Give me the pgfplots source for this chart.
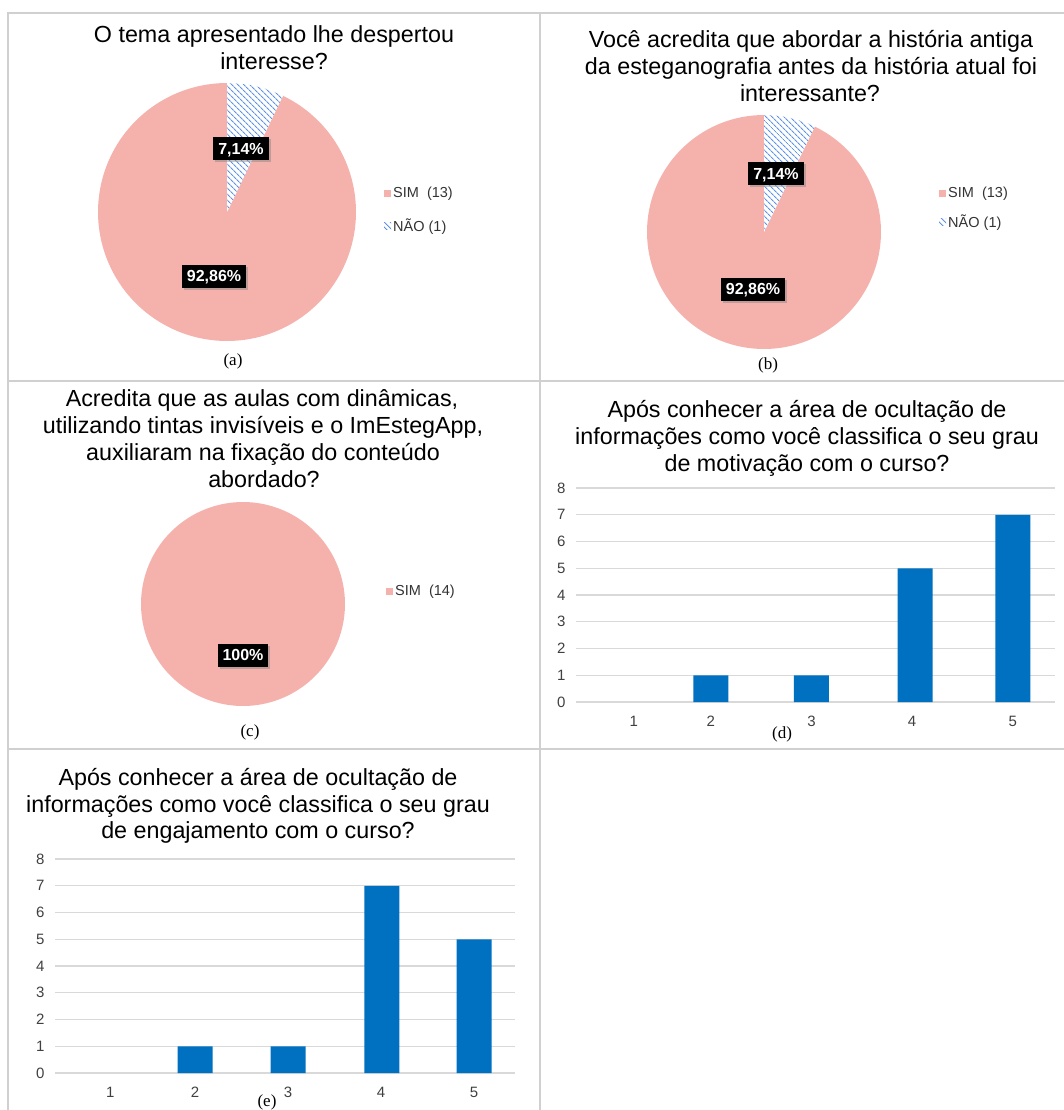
\documentclass[border=0pt]{standalone}
\usepackage{fontspec}
\setmainfont{Liberation Sans}
\newfontfamily\capfont{Liberation Serif}
\usepackage{pgfplots}
\pgfplotsset{compat=1.18}
\usetikzlibrary{patterns,patterns.meta,shadows}
\definecolor{piepink}{HTML}{F5B2AD}
\definecolor{hatchblue}{HTML}{5E93E6}
\definecolor{barblue}{HTML}{0070C0}
\definecolor{gridgray}{HTML}{D9D9D9}
\definecolor{ticktext}{HTML}{404040}
\definecolor{legtext}{HTML}{333333}
\definecolor{framegray}{HTML}{D0D0D0}

\pgfplotsset{
  pieaxis/.style={hide axis, scale only axis, xmin=-1,xmax=1,ymin=-1,ymax=1,
    anchor=center, clip=false,
    legend style={draw=none, fill=none, anchor=north west, inner sep=0pt,
      font=\fontsize{14.5}{16}\selectfont\color{legtext}, cells={anchor=west}},
    legend image code/.code={\path[##1] (0pt,-3.5pt) rectangle (7pt,3.5pt);}},
  baraxis/.style={scale only axis, anchor=south west, clip=false,
    axis line style={draw=none}, ymin=0, ymax=8, ytick={0,...,8},
    ymajorgrids, grid style={gridgray, line width=1.3pt},
    major tick length=0pt, ybar, bar width=35pt,
    /pgf/number format/assume math mode=true,
    tick label style={font=\fontsize{15}{17}\selectfont, text=ticktext},
    xticklabel style={anchor=north, text height=11pt, text depth=0pt, yshift=-10pt},
    yticklabel style={xshift=-7pt}},
  hatch/.style={fill=white, draw=none,
    postaction={pattern={Lines[angle=-45, distance=4pt, line width=1.1pt]}, pattern color=hatchblue}},
}
\tikzset{
  plab/.style={fill=black, text=white, font=\fontsize{16}{18}\selectfont\bfseries,
    inner xsep=5pt, inner ysep=5.5pt, text height=11.5pt, text depth=0.5pt,
    drop shadow={shadow xshift=2pt, shadow yshift=-2pt, opacity=0.45}},
  ttl/.style={anchor=base, inner sep=0pt, font=\fontsize{23.3}{27}\selectfont},
  figcap/.style={anchor=base, inner sep=0pt, font=\capfont\fontsize{17}{20}\selectfont},
}

% data (counts)
\def\aSim{13}\def\aNao{1}
\def\bSim{13}\def\bNao{1}
\def\cSim{14}

\begin{document}
\begin{tikzpicture}
\useasboundingbox (0,0) rectangle (1064pt,-1110pt);
% frame
\draw[framegray, line width=1.5pt] (8pt,-1110pt) -- (8pt,-13pt) -- (1064pt,-13pt);
\draw[framegray, line width=1.5pt] (540pt,-13pt) -- (540pt,-1110pt);
\draw[framegray, line width=1.5pt] (8pt,-381pt) -- (1064pt,-381pt);
\draw[framegray, line width=1.5pt] (8pt,-749pt) -- (1064pt,-749pt);

% ---------- (a) ----------
\node[ttl] at (274pt,-43pt) {O tema apresentado lhe despertou};
\node[ttl] at (274pt,-70pt) {interesse?};
\pgfmathsetmacro\aEnd{90+360*\aSim/(\aSim+\aNao)}
\pgfmathsetmacro\aStart{90-360*\aNao/(\aSim+\aNao)}
\begin{axis}[pieaxis, at={(227pt,-212pt)}, width=258pt, height=258pt,
  legend style={at={(axis cs:1.217,0.21)}, row sep=16pt}]
  \addplot[fill=piepink, draw=none, domain=90:\aEnd, samples=150]
    ({cos(x)},{sin(x)}) -- (axis cs:0,0) -- cycle;
  \addplot[hatch, domain=\aStart:90, samples=30]
    ({cos(x)},{sin(x)}) -- (axis cs:0,0) -- cycle;
  \legend{SIM\ \ (13), NÃO (1)}
\end{axis}
\node[plab] at (241pt,-149pt) {7,14\%};
\node[plab] at (214pt,-276pt) {92,86\%};
\node[figcap] at (233pt,-365pt) {(a)};

% ---------- (b) ----------
\node[ttl] at (811pt,-48pt) {Você acredita que abordar a história antiga};
\node[ttl] at (811pt,-75pt) {da esteganografia antes da história atual foi};
\node[ttl] at (810pt,-102pt) {interessante?};
\pgfmathsetmacro\bEnd{90+360*\bSim/(\bSim+\bNao)}
\pgfmathsetmacro\bStart{90-360*\bNao/(\bSim+\bNao)}
\begin{axis}[pieaxis, at={(764pt,-232pt)}, width=234pt, height=234pt,
  legend style={at={(axis cs:1.496,0.402)}, row sep=12pt}]
  \addplot[fill=piepink, draw=none, domain=90:\bEnd, samples=150]
    ({cos(x)},{sin(x)}) -- (axis cs:0,0) -- cycle;
  \addplot[hatch, domain=\bStart:90, samples=30]
    ({cos(x)},{sin(x)}) -- (axis cs:0,0) -- cycle;
  \legend{SIM\ \ (13), NÃO (1)}
\end{axis}
\node[plab] at (776pt,-174pt) {7,14\%};
\node[plab] at (753pt,-289pt) {92,86\%};
\node[figcap] at (768pt,-369pt) {(b)};

% ---------- (c) ----------
\node[ttl] at (262pt,-406pt) {Acredita que as aulas com dinâmicas,};
\node[ttl] at (263pt,-433pt) {utilizando tintas invisíveis e o ImEstegApp,};
\node[ttl] at (263pt,-460pt) {auxiliaram na fixação do conteúdo};
\node[ttl] at (264pt,-487pt) {abordado?};
\begin{axis}[pieaxis, at={(243pt,-604pt)}, width=204pt, height=204pt,
  legend style={at={(axis cs:1.402,0.205)}}]
  \addplot[fill=piepink, draw=none, domain=90:450, samples=150]
    ({cos(x)},{sin(x)}) -- cycle;
  \legend{SIM\ \ (14)}
\end{axis}
\node[plab] at (243pt,-655pt) {100\%};
\node[figcap] at (250pt,-736pt) {(c)};

% ---------- (d) ----------
\node[ttl] at (807pt,-417pt) {Após conhecer a área de ocultação de};
\node[ttl] at (807pt,-444pt) {informações como você classifica o seu grau};
\node[ttl] at (807pt,-471pt) {de motivação com o curso?};
\begin{axis}[baraxis, at={(576pt,-702pt)}, width=479pt, height=214pt,
  xmin=0.66, xmax=5.42, xtick={1.235,2,3,4,5}, xticklabels={1,2,3,4,5}]
  \addplot[fill=barblue, draw=none, restrict y to domain=0.5:100]
    coordinates {(1.235,0) (2,1) (3,1) (4.03,5) (5,7)};
\end{axis}
\node[figcap] at (782pt,-738pt) {(d)};

% ---------- (e) ----------
\node[ttl] at (258pt,-785pt) {Após conhecer a área de ocultação de};
\node[ttl] at (258pt,-812pt) {informações como você classifica o seu grau};
\node[ttl] at (258pt,-838pt) {de engajamento com o curso?};
\begin{axis}[baraxis, at={(55pt,-1073pt)}, width=460pt, height=214pt,
  xmin=0.495, xmax=5.44, xtick={1.09,2,3,4,5}, xticklabels={1,2,3,4,5}]
  \addplot[fill=barblue, draw=none, restrict y to domain=0.5:100]
    coordinates {(1.09,0) (2,1) (3,1) (4.01,7) (5,5)};
\end{axis}
\node[figcap] at (267pt,-1106pt) {(e)};
\end{tikzpicture}
\end{document}
